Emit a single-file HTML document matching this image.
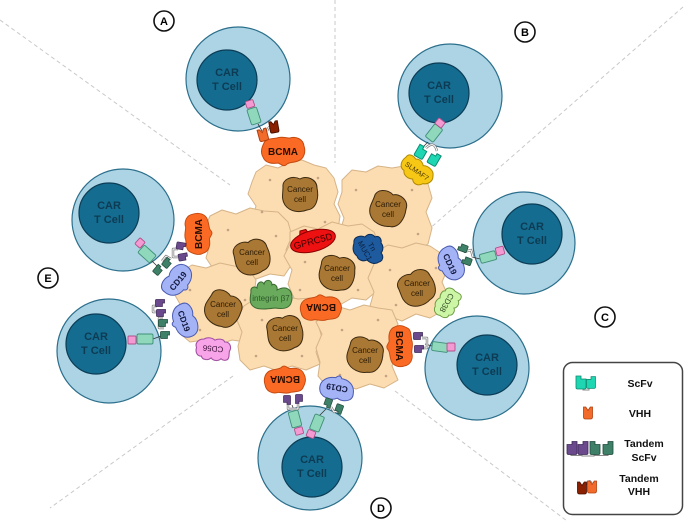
<!DOCTYPE html>
<html><head><meta charset="utf-8"><style>
html,body{margin:0;padding:0;background:#fff;}
svg{display:block;font-family:"Liberation Sans",Arial,sans-serif;}
</style></head><body>
<svg width="685" height="526" viewBox="0 0 685 526" xmlns="http://www.w3.org/2000/svg">
<defs>
 <path id="nuc" d="M-17,-7 C-18,-15 -7,-19 0,-15 C6,-19 17,-15 17,-6 C19,3 17,15 7,16 C0,19 -10,18 -15,11 C-19,5 -17,0 -17,-7 Z"/>
 <path id="bcma" d="M-19,-8 C-17,-13 -10,-12 -6,-13 C-2,-15 3,-13 7,-13 C13,-15 20,-12 21,-5 C23,1 21,8 15,10 C10,12 5,11 3,14 C0,16 -2,13 -5,12 C-11,13 -18,12 -20,6 C-23,1 -21,-4 -19,-8 Z"/>
 <path id="cd" d="M-17,-3 C-18,-11 -8,-13 -2,-10 C4,-14 16,-12 17,-3 C18,5 11,10 3,10 C1,13 -2,13 -3,10 C-11,10 -17,5 -17,-3 Z"/>
 <path id="cloud" d="M-15,-6 C-15,-11 -10,-11 -8,-9 C-6,-12 -1,-12 1,-9 C3,-12 9,-12 10,-8 C14,-9 16,-4 15,0 C17,4 14,9 9,9 C6,12 1,11 -1,9 C-4,11 -9,11 -10,8 C-15,9 -17,3 -15,-1 Z"/>
 <path id="dom" d="M-5,-6.5 h5 v3 h5 v8.5 q0,1.5 -1.5,1.5 h-7 q-1.5,0 -1.5,-1.5 Z"/>
 <path id="vhh" d="M-4.5,-6 h2.25 l2.25,3.5 l2.25,-3.5 h2.25 v10 q0,2 -2,2 h-5 q-2,0 -2,-2 Z"/>
</defs>

<g stroke="#c9c9c9" stroke-width="1" stroke-dasharray="4,3" fill="none">
 <line x1="0" y1="20" x2="230" y2="185"/>
 <line x1="335" y1="0" x2="335" y2="163"/>
 <line x1="683" y1="7" x2="428" y2="230"/>
 <line x1="395" y1="391" x2="567" y2="521"/>
 <line x1="233" y1="376" x2="50" y2="508"/>
</g>

<g font-weight="bold" font-size="11" text-anchor="middle" fill="#000">
 <circle cx="164" cy="21" r="10" fill="#fff" stroke="#111" stroke-width="1.6"/><text x="164" y="25">A</text>
 <circle cx="525" cy="32" r="10" fill="#fff" stroke="#111" stroke-width="1.6"/><text x="525" y="36">B</text>
 <circle cx="605" cy="317" r="10" fill="#fff" stroke="#111" stroke-width="1.6"/><text x="605" y="321">C</text>
 <circle cx="381" cy="508" r="10" fill="#fff" stroke="#111" stroke-width="1.6"/><text x="381" y="512">D</text>
 <circle cx="48" cy="278" r="10" fill="#fff" stroke="#111" stroke-width="1.6"/><text x="48" y="282">E</text>
</g>

<g stroke-width="1.2">
 <g fill="#acd4e4" stroke="#2c6f8c">
  <circle cx="238" cy="79" r="52"/>
  <circle cx="123" cy="220" r="51"/>
  <circle cx="450" cy="96" r="52"/>
  <circle cx="524" cy="243" r="51"/>
  <circle cx="477" cy="368" r="52"/>
  <circle cx="310" cy="458" r="52"/>
  <circle cx="109" cy="351" r="52"/>
 </g>
 <g fill="#146d91" stroke="#0c3c55">
  <circle cx="227" cy="80" r="30"/>
  <circle cx="109" cy="213" r="30"/>
  <circle cx="439" cy="93" r="30"/>
  <circle cx="532" cy="234" r="30"/>
  <circle cx="487" cy="365" r="30"/>
  <circle cx="312" cy="467" r="30"/>
  <circle cx="96" cy="344" r="30"/>
 </g>
</g>
<g font-weight="bold" font-size="11" text-anchor="middle" fill="#0d3b53">
 <text x="227" y="76">CAR</text><text x="227" y="90">T Cell</text>
 <text x="109" y="209">CAR</text><text x="109" y="223">T Cell</text>
 <text x="439" y="89">CAR</text><text x="439" y="103">T Cell</text>
 <text x="532" y="230">CAR</text><text x="532" y="244">T Cell</text>
 <text x="487" y="361">CAR</text><text x="487" y="375">T Cell</text>
 <text x="312" y="463">CAR</text><text x="312" y="477">T Cell</text>
 <text x="96" y="340">CAR</text><text x="96" y="354">T Cell</text>
</g>

<g fill="#fcdcb1" stroke="#d6b488" stroke-width="1" stroke-linejoin="round">
 <path d="M256,172 L266,165 L278,168 L290,162 L302,160 L314,165 L326,168 L334,178 L338,192 L334,204 L340,216 L338,230 L326,236 L314,232 L300,238 L286,234 L272,240 L260,232 L252,220 L256,206 L248,194 L252,182 Z"/>
 <path d="M342,180 L352,170 L366,172 L378,166 L392,168 L404,166 L416,176 L428,184 L432,198 L426,212 L432,228 L428,244 L414,252 L400,250 L386,258 L370,252 L356,258 L344,246 L340,232 L344,218 L338,204 L342,192 Z"/>
 <path d="M210,216 L222,210 L236,214 L250,208 L264,211 L278,212 L288,222 L292,236 L286,250 L292,264 L284,276 L270,274 L256,279 L242,274 L228,278 L214,270 L206,258 L210,244 L204,230 Z"/>
 <path d="M290,232 L304,226 L318,229 L332,222 L348,226 L362,224 L374,232 L380,246 L376,260 L382,274 L378,290 L366,300 L352,298 L338,306 L322,300 L308,306 L294,298 L288,284 L292,270 L284,256 L290,244 Z"/>
 <path d="M376,252 L388,245 L402,248 L416,243 L430,246 L442,254 L448,268 L442,282 L448,296 L444,310 L430,318 L416,314 L402,321 L388,316 L376,320 L370,306 L374,292 L368,278 L374,264 Z"/>
 <path d="M180,272 L192,265 L206,268 L220,263 L234,266 L248,268 L256,280 L254,294 L258,308 L252,322 L258,336 L246,342 L232,340 L218,345 L204,340 L190,342 L178,332 L174,318 L180,304 L172,290 Z"/>
 <path d="M244,306 L256,298 L270,301 L284,296 L298,299 L312,298 L320,310 L318,324 L322,338 L316,352 L320,364 L306,370 L292,366 L278,371 L264,366 L250,370 L240,360 L238,346 L242,332 L236,318 Z"/>
 <path d="M324,314 L336,306 L350,310 L364,305 L378,308 L392,310 L398,324 L394,338 L398,352 L392,366 L398,380 L384,388 L370,384 L356,389 L342,384 L328,388 L318,376 L320,362 L316,348 L322,334 L316,322 Z"/>
</g>
<g fill="#c4a383">
 <circle cx="270" cy="180" r="1.3"/><circle cx="318" cy="178" r="1.3"/><circle cx="262" cy="212" r="1.3"/><circle cx="325" cy="222" r="1.3"/>
 <circle cx="356" cy="190" r="1.3"/><circle cx="412" cy="190" r="1.3"/><circle cx="360" cy="238" r="1.3"/><circle cx="418" cy="234" r="1.3"/>
 <circle cx="228" cy="230" r="1.3"/><circle cx="276" cy="236" r="1.3"/><circle cx="305" cy="262" r="1.3"/><circle cx="358" cy="290" r="1.3"/>
 <circle cx="300" cy="290" r="1.3"/><circle cx="390" cy="270" r="1.3"/><circle cx="436" cy="268" r="1.3"/><circle cx="396" cy="305" r="1.3"/>
 <circle cx="190" cy="290" r="1.3"/><circle cx="245" cy="300" r="1.3"/><circle cx="200" cy="330" r="1.3"/><circle cx="262" cy="320" r="1.3"/>
 <circle cx="302" cy="356" r="1.3"/><circle cx="256" cy="356" r="1.3"/><circle cx="342" cy="330" r="1.3"/><circle cx="386" cy="376" r="1.3"/>
 <circle cx="340" cy="375" r="1.3"/><circle cx="378" cy="320" r="1.3"/>
</g>
<g fill="#a97834" stroke="#3d2a10" stroke-width="1">
 <use href="#nuc" transform="translate(300,194)"/>
 <use href="#nuc" transform="translate(388,209) rotate(20)"/>
 <use href="#nuc" transform="translate(252,257) rotate(-15)"/>
 <use href="#nuc" transform="translate(337,273) rotate(10)"/>
 <use href="#nuc" transform="translate(417,288) rotate(-25)"/>
 <use href="#nuc" transform="translate(223,309) rotate(30)"/>
 <use href="#nuc" transform="translate(285,333) rotate(-10)"/>
 <use href="#nuc" transform="translate(365,355) rotate(15)"/>
</g>
<g font-size="8" text-anchor="middle" fill="#2b1a05">
 <text x="300" y="192">Cancer</text><text x="300" y="202">cell</text>
 <text x="388" y="207">Cancer</text><text x="388" y="217">cell</text>
 <text x="252" y="255">Cancer</text><text x="252" y="265">cell</text>
 <text x="337" y="271">Cancer</text><text x="337" y="281">cell</text>
 <text x="417" y="286">Cancer</text><text x="417" y="296">cell</text>
 <text x="223" y="307">Cancer</text><text x="223" y="317">cell</text>
 <text x="285" y="331">Cancer</text><text x="285" y="341">cell</text>
 <text x="365" y="353">Cancer</text><text x="365" y="363">cell</text>
</g>

<g fill="#fa6a24" stroke="#c24a10" stroke-width="1">
 <use href="#bcma" transform="translate(283,151)"/>
 <use href="#bcma" transform="translate(198,234) rotate(-90) scale(0.95,0.95)"/>
 <use href="#bcma" transform="translate(321,308) rotate(180) scale(0.95,0.9)"/>
 <use href="#bcma" transform="translate(285,380) rotate(180) scale(0.95,0.95)"/>
 <use href="#bcma" transform="translate(400,346) rotate(90) scale(0.95,0.9)"/>
</g>
<g font-size="10" font-weight="bold" text-anchor="middle" fill="#2a0e00">
 <text transform="translate(283,155)">BCMA</text>
 <text transform="translate(198,234) rotate(-90)" y="4">BCMA</text>
 <text transform="translate(321,308) rotate(180)" y="4">BCMA</text>
 <text transform="translate(285,380) rotate(180)" y="4">BCMA</text>
 <text transform="translate(400,346) rotate(90)" y="4">BCMA</text>
</g>
<g fill="#a3b3f5" stroke="#4b5bb0" stroke-width="1">
 <use href="#cd" transform="translate(178,281) rotate(-50)"/>
 <use href="#cd" transform="translate(184,321) rotate(70)"/>
 <use href="#cd" transform="translate(450,264) rotate(65)"/>
 <use href="#cd" transform="translate(337,388) rotate(190)"/>
</g>
<g font-size="8.5" font-weight="bold" text-anchor="middle" fill="#151a40">
 <text transform="translate(178,281) rotate(-50)" y="3">CD19</text>
 <text transform="translate(184,321) rotate(70)" y="3">CD19</text>
 <text transform="translate(450,264) rotate(65)" y="3">CD19</text>
 <text transform="translate(337,388) rotate(190)" y="3">CD19</text>
</g>
<use href="#cloud" transform="translate(447,303) rotate(120) scale(0.95)" fill="#ccf5a5" stroke="#6a9a40"/>
<text transform="translate(447,303) rotate(120)" y="3" font-size="8" text-anchor="middle" fill="#2f4a20">CD38</text>
<use href="#cloud" transform="translate(213,349) rotate(185) scale(1.1,1)" fill="#f7a4e8" stroke="#a050a0"/>
<text transform="translate(213,349) rotate(185)" y="3" font-size="8" text-anchor="middle" fill="#3a1035">CD56</text>
<path transform="translate(271,296)" d="M-20,-4 C-21,-9 -16,-10 -14,-8 C-14,-14 -9,-16 -7,-12 C-6,-17 1,-17 1,-11 C3,-13 7,-10 6,-6 C10,-8 14,-9 17,-7 C21,-5 22,2 20,7 C18,13 10,13 4,12 C-4,13 -12,14 -17,11 C-22,8 -21,2 -20,-4 Z" fill="#6aaa5c" stroke="#3a6a30"/>
<text x="271" y="301" font-size="8" text-anchor="middle" fill="#2d5a2a">integrin β7</text>
<g transform="translate(313,241) rotate(-15)" fill="#ee1111" stroke="#8a0000" stroke-width="1">
 <path d="M-12,-7 L-10,-13 L-4,-13 L-2,-8 Z"/>
 <ellipse cx="0" cy="0" rx="23" ry="10.5"/>
 <text y="3.3" font-size="9.5" text-anchor="middle" fill="#3a0000" stroke="none">GPRC5D</text>
</g>
<path transform="translate(368,249)" d="M-14,-6 C-15,-12 -8,-14 -3,-12 C0,-16 5,-15 7,-12 C11,-14 14,-10 13,-6 C16,-3 15,2 13,4 C16,7 15,12 11,13 C7,16 2,14 -1,11 C-5,13 -10,11 -11,7 C-15,4 -16,0 -14,-6 Z" fill="#1e5a9e" stroke="#0c2d55"/>
<g transform="translate(368,249) rotate(60)" font-size="7.5" text-anchor="middle" fill="#0b1f3d">
 <text y="-2">Tn</text><text y="6">MUC1</text>
</g>
<path transform="translate(417,171) rotate(35)" d="M-17,-5 C-17,-10 -12,-11 -8,-9 C-4,-12 0,-10 2,-8 C6,-11 14,-10 16,-5 C19,-1 17,5 12,7 C10,12 4,13 1,9 C-3,12 -9,11 -11,7 C-17,7 -19,1 -17,-5 Z" fill="#f7c716" stroke="#b08a00"/>
<text transform="translate(417,171) rotate(35)" y="2.5" font-size="7" text-anchor="middle" fill="#4a3800">SLMAF7</text>

<g stroke="#333" stroke-width="0.8" fill="none">
 <line x1="258" y1="124" x2="262" y2="131"/>
 <line x1="152" y1="261" x2="158" y2="267"/>
 <line x1="153" y1="339" x2="161" y2="336"/>
 <line x1="428" y1="142" x2="423" y2="147"/>
 <line x1="480" y1="259" x2="472" y2="257"/>
 <line x1="432" y1="346" x2="425" y2="344"/>
 <line x1="294" y1="410" x2="292" y2="405"/>
 <line x1="319" y1="416" x2="326" y2="409"/>
</g>

<g fill="none" stroke-linejoin="round">
 <g stroke="#777" stroke-width="2.4">
  <path d="M267,131 q3,-8 7,-3"/>
  <path d="M178,249 h-5 v8 h5"/><path d="M171,259 l-5,-3 l-4,5"/>
  <path d="M157,306 h-4 v6 h4"/><path d="M163,318 h-4 v10 h5"/>
  <path d="M426,148 q8,-8 11,3"/>
  <path d="M464,252 l7,-2 l2,7"/>
  <path d="M422,338 h5 v10 h-5"/>
  <path d="M288,405 v4 h10 v-5"/>
  <path d="M331,407 l3,5 l5,-2"/>
 </g>
 <g stroke="#fff" stroke-width="1">
  <path d="M267,131 q3,-8 7,-3"/>
  <path d="M178,249 h-5 v8 h5"/><path d="M171,259 l-5,-3 l-4,5"/>
  <path d="M157,306 h-4 v6 h4"/><path d="M163,318 h-4 v10 h5"/>
  <path d="M426,148 q8,-8 11,3"/>
  <path d="M464,252 l7,-2 l2,7"/>
  <path d="M422,338 h5 v10 h-5"/>
  <path d="M288,405 v4 h10 v-5"/>
  <path d="M331,407 l3,5 l5,-2"/>
 </g>
</g>

<g stroke-width="1">
 <use href="#vhh" transform="translate(263,135) rotate(-15)" fill="#f36b2a" stroke="#b04010"/>
 <use href="#vhh" transform="translate(274,127) rotate(-10) scale(0.95)" fill="#8b2000" stroke="#4a1000"/>
 <g fill="#6a4a8c" stroke="#3d2755">
  <use href="#dom" transform="translate(181,246) rotate(100) scale(0.7)"/>
  <use href="#dom" transform="translate(183,257) rotate(80) scale(0.7)"/>
  <use href="#dom" transform="translate(160,303) rotate(90) scale(0.7)"/>
  <use href="#dom" transform="translate(161,313) rotate(90) scale(0.7)"/>
  <use href="#dom" transform="translate(418,336) rotate(90) scale(0.7)"/>
  <use href="#dom" transform="translate(419,349) rotate(90) scale(0.7)"/>
  <use href="#dom" transform="translate(287,400) rotate(180) scale(0.7)"/>
  <use href="#dom" transform="translate(299,399) rotate(180) scale(-0.7,0.7)"/>
 </g>
 <g fill="#3e8068" stroke="#1e4a3a">
  <use href="#dom" transform="translate(167,263) rotate(40) scale(0.7)"/>
  <use href="#dom" transform="translate(158,270) rotate(40) scale(0.7)"/>
  <use href="#dom" transform="translate(163,323) rotate(90) scale(0.7)"/>
  <use href="#dom" transform="translate(165,335) rotate(90) scale(0.7)"/>
  <use href="#dom" transform="translate(463,248) rotate(-70) scale(0.7)"/>
  <use href="#dom" transform="translate(467,261) rotate(-70) scale(0.7)"/>
  <use href="#dom" transform="translate(328,403) rotate(200) scale(0.7)"/>
  <use href="#dom" transform="translate(339,409) rotate(200) scale(0.7)"/>
 </g>
 <g fill="#1ed6b2" stroke="#0a8a70">
  <use href="#dom" transform="translate(421,152) rotate(30) scale(0.95)"/>
  <use href="#dom" transform="translate(434,159) rotate(30) scale(-0.95,0.95)"/>
 </g>
</g>

<g stroke-width="0.9">
 <g fill="#8fd8bc" stroke="#3f8f77">
  <rect x="-5" y="-8" width="10" height="16" rx="1.5" transform="translate(254,116) rotate(-18)"/>
  <rect x="-5" y="-8" width="10" height="16" rx="1.5" transform="translate(147,254) rotate(-48)"/>
  <rect x="-8" y="-5" width="16" height="10" rx="1.5" transform="translate(145,339)"/>
  <rect x="-5" y="-8" width="10" height="16" rx="1.5" transform="translate(434,133) rotate(38)"/>
  <rect x="-8" y="-4.5" width="16" height="9" rx="1.5" transform="translate(488,257) rotate(-15)"/>
  <rect x="-8" y="-4.5" width="16" height="9" rx="1.5" transform="translate(440,347) rotate(8)"/>
  <rect x="-5" y="-8" width="10" height="16" rx="1.5" transform="translate(295,419) rotate(-15)"/>
  <rect x="-5" y="-8" width="10" height="16" rx="1.5" transform="translate(317,423) rotate(22)"/>
 </g>
 <g fill="#f49ad2" stroke="#b0508a">
  <rect x="-4" y="-3.5" width="8" height="7" rx="1" transform="translate(250,104) rotate(-18)"/>
  <rect x="-4" y="-3.5" width="8" height="7" rx="1" transform="translate(140,243) rotate(-48)"/>
  <rect x="-4" y="-4" width="8" height="8" rx="1" transform="translate(132,340)"/>
  <rect x="-4" y="-3.5" width="8" height="7" rx="1" transform="translate(440,123) rotate(38)"/>
  <rect x="-4" y="-4" width="8" height="8" rx="1" transform="translate(500,251) rotate(-15)"/>
  <rect x="-4" y="-4" width="8" height="8" rx="1" transform="translate(451,347)"/>
  <rect x="-4" y="-3.5" width="8" height="7" rx="1" transform="translate(299,431) rotate(-15)"/>
  <rect x="-4" y="-3.5" width="8" height="7" rx="1" transform="translate(311,434) rotate(22)"/>
 </g>
</g>

<rect x="563.5" y="362.5" width="119" height="152" rx="9" fill="#fff" stroke="#444" stroke-width="1.5"/>
<g stroke="#888" stroke-width="1" fill="none">
 <path d="M583,386 v4 h6 v-4"/>
 <path d="M571,453 v2.5 h11 v-2.5 M582,453 v3 h12 v-3 M595,453 v2.5 h13 v-2.5"/>
 <path d="M586,486 q3,-9 6,-3"/>
</g>
<g stroke-width="0.8">
 <use href="#dom" transform="translate(581,382.5)" fill="#1ed6b2" stroke="#0a8a70"/>
 <use href="#dom" transform="translate(591,382.5) scale(-0.9,0.9)" fill="#1ed6b2" stroke="#0a8a70"/>
 <use href="#vhh" transform="translate(588,413)" fill="#f36b2a" stroke="#b04010"/>
 <use href="#dom" transform="translate(572,448) scale(-1,1)" fill="#6a4a8c" stroke="#3d2755"/>
 <use href="#dom" transform="translate(583,448) scale(-1,1)" fill="#6a4a8c" stroke="#3d2755"/>
 <use href="#dom" transform="translate(595,448)" fill="#3e8068" stroke="#1e4a3a"/>
 <use href="#dom" transform="translate(608,448) scale(-1,1)" fill="#3e8068" stroke="#1e4a3a"/>
 <use href="#vhh" transform="translate(582,488)" fill="#8b2000" stroke="#4a1000"/>
 <use href="#vhh" transform="translate(592,487)" fill="#f36b2a" stroke="#b04010"/>
</g>
<g font-size="10.5" font-weight="bold" text-anchor="middle" fill="#111">
 <text x="640" y="387">ScFv</text>
 <text x="640" y="417">VHH</text>
 <text x="644" y="447">Tandem</text>
 <text x="644" y="461">ScFv</text>
 <text x="639" y="482">Tandem</text>
 <text x="639" y="495">VHH</text>
</g>
</svg>
</body></html>
